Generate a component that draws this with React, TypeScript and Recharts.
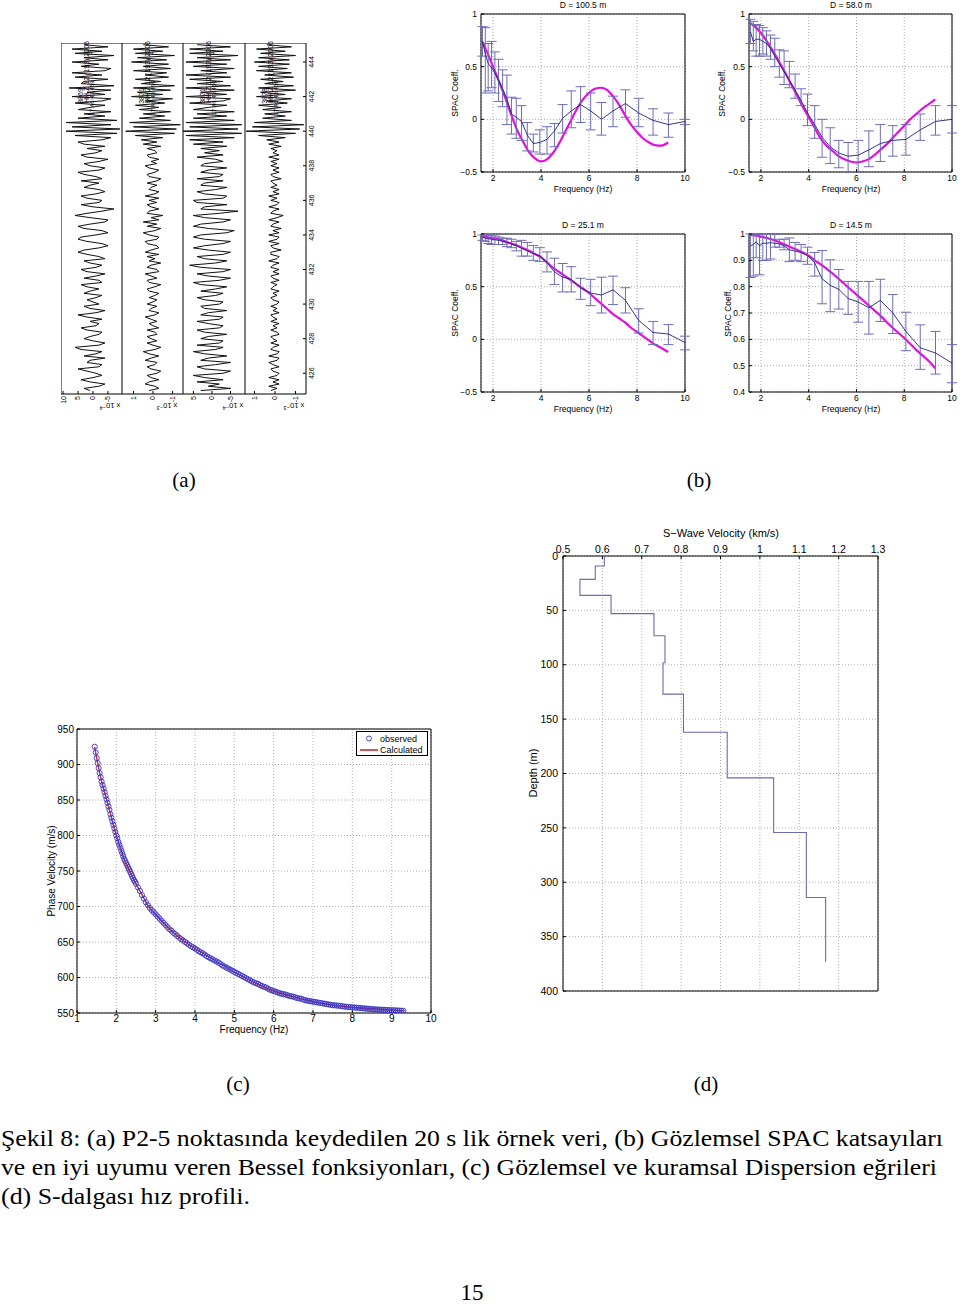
import React from 'react';
import {
  ComposedChart, ScatterChart, Scatter, Line, XAxis, YAxis, CartesianGrid,
  ErrorBar, ReferenceArea, Legend,
} from 'recharts';

const SANS = '"Liberation Sans", Arial, sans-serif';
const SERIF = '"Liberation Serif", "DejaVu Serif", serif';

// ---------------- (a) seismograms ----------------
const seisT0 = 425;
const seisDt = 0.125;
const seisTimeTicks = [426, 428, 430, 432, 434, 436, 438, 440, 442, 444];
// x 1e-4
const trace1 = [
  1, 3, -2, -4, 1, 4, 0, -3, -1, 2, 5, -2, -3, 2, 1, -4, 3, -1, -3, 4, 6, -2, -4, 0,
  3, 1, -2, -3, 2, 4, -1, -2, 1, -3, 2, 5, -1, -4, 1, 3, -2, 0, 2, -1, -3, 3, 1, -2,
  2, 4, -3, -2, 3, -1, -4, 2, 4, -1, -3, 1, 3, -4, -2, 2, 5, 3, -2, -5, -3, 2, 5, 4,
  -1, -5, -3, 3, 5, 1, -4, -5, 1, 6, 2, -3, -7, 0, 4, -2, -3, 2, 4, -1, -4, -2, 3, 1,
  -2, 4, -3, -1, 3, 5, -2, -4, 1, 3, -2, -5, 2, 4, -1, -3, 2, -4, 3, 5, -3, -6, 6, -8,
  9, -9, 7, -6, 9, -8, 5, -4,
  3, -6, 5, 1, -4, 6, -3, -6, 7, -4, 2, -6, 8, -7, 4, 3, -5, 6, -3, 7, -4, -6, 4, -2,
  7, -5, 3, -7, 6, -3, 7, -5, 3,
];
// x 1e-4 (axis labelled x 1e-3)
const trace2 = [
  2, -3, -1, 4, 2, -3, 1, 3, -2, -4, 1, 3, -1, -2, 4, 1, -3, 2, 5, -1, -4, 0, 3, -2,
  1, 3, -2, -1, 3, -3, 0, 2, -2, 1, 4, -1, -3, 2, 1, -2, 3, 0, -2, 2, -1, -3, 2, 3,
  -1, -4, 2, 3, -2, 1, 4, -3, -2, 3, 1, -4, 2, -1, 3, -3, 4, 1, -3, -2, 3, 4, -2, -3,
  2, 5, -1, -4, 3, -2, 5, -3, 1, -5, 3, 2, -3, 1, 3, -2, 2, -3, 4, -1, -3, 2, 1, -2,
  3, -2, -4, 2, 3, -1, -3, 2, 4, -2, 1, -3, 2, 3, -2, -1, 3, -4, 5, -2, 6, -5, 9, -11,
  14, -12, 10, -14, 12, -9, 7, -6,
  5, -9, 7, -3, 9, -6, 4, -10, 11, -5, 8, -9, 10, -11, 6, -4, 9, -8, 4, -7, 10, -9, 5, -8,
  11, -7, 8, -11, 9, -5, 10, -8, 5,
];
// x 1e-4
const trace3 = [
  3, -5, 1, -2, 4, -3, 2, 5, -3, -5, 2, 4, -1, -5, 3, 1, -4, 2, 5, -1, -3, 4, -2, -3,
  3, 1, -4, 2, 4, -2, -3, 1, 4, -2, -3, 3, 1, -4, 2, 3, -2, -3, 2, 4, -1, -3, 3, -1,
  -4, 3, 5, -2, -5, 1, 4, -3, -5, 3, 6, -1, -4, 2, 4, -3, -5, 1, 5, 2, -3, -5, 2, 5,
  3, -4, -6, 1, 5, 3, -3, -5, 2, 5, -2, -7, 3, 2, -4, 4, 5, -3, -4, 2, 4, -1, -4, 3,
  2, -3, 4, -2, -3, 3, 1, -4, 3, 2, -3, -1, 4, -3, 2, -2, 3, -4, 5, -3, 6, -6, 7, -8,
  8, -7, 6, -8, 7, -6, 5, -4,
  4, -6, 5, 1, -4, 6, -3, -5, 7, -4, 3, -6, 7, -5, 4, -3, 6, -5, 7, -4, 3, -6, 5, -4,
  7, -5, 4, -7, 6, -3, 6, -5, 4,
];
// x 1e-4 (axis labelled x 1e-3)
const trace4 = [
  2, -1, 3, -2, 1, -2, 3, -1, -2, 1, 2, -2, 1, 3, -1, -2, 3, -1, -2, 2, 1, -2, 2, -1,
  1, 2, -2, -1, 2, -1, 1, -2, 2, -1, 1, 2, -2, 1, -1, 2, -1, -2, 1, 2, -1, 1, -2, 2,
  1, -1, 2, -2, 1, 2, -2, 1, -2, 2, 1, -2, 3, -1, -2, 2, 2, -3, 1, 2, -2, 3, -1, -2,
  3, -2, 1, -3, 2, 1, -2, 3, -1, -4, 2, 1, -2, 3, -1, -2, 2, -1, 3, -2, 1, -2, 2, -1,
  1, 2, -3, 1, 2, -2, 1, -2, 2, -1, 2, -2, 3, -2, 1, -1, 2, -3, 3, -2, 4, -5, 8, -10,
  14, -12, 11, -14, 10, -8, 6, -5,
  5, -8, 6, -3, 8, -6, 4, -8, 9, -5, 7, -10, 8, -9, 5, -4, 7, -9, 5, -8, 9, -6, 8, -7,
  10, -7, 8, -10, 7, -5, 9, -8, 4,
];
const trace1Ticks = [10, 5, 0, -5];
const trace2Ticks = [10, 0, -10];
const trace3Ticks = [5, 0, -5];
const trace4Ticks = [10, 0, -10];
const stationIds = ['3869', '3871', '3871', '3878'];
const stationNums = ['3', '1', '1', ''];
const scaleExps = ['\u22124', '\u22123', '\u22124', '\u22123'];

// ---------------- (b) SPAC coefficients ----------------
const spacFreq = [1.56, 1.68, 1.80, 1.94, 2.08, 2.23, 2.40, 2.58, 2.77, 2.97, 3.19, 3.43, 3.68, 3.95,
  4.25, 4.56, 4.90, 5.26, 5.65, 6.07, 6.52, 7.00, 7.52, 8.07, 8.67, 9.31, 10.0];
const besselFreq = [1.5, 1.75, 2, 2.25, 2.5, 2.75, 3, 3.25, 3.5, 3.75, 4, 4.25, 4.5, 4.75, 5, 5.25,
  5.5, 5.75, 6, 6.25, 6.5, 6.75, 7, 7.25, 7.5, 7.75, 8, 8.25, 8.5, 8.75, 9, 9.3];

const d100Mean = [0.74, 0.62, 0.53, 0.49, 0.44, 0.37, 0.29, 0.2, 0.05, 0.02, -0.02, -0.15, -0.23, -0.22,
  -0.19, -0.11, 0.01, 0.08, 0.14, 0.08, 0.0, 0.08, 0.15, 0.06, -0.01, -0.05, -0.02];
const d100Hi = [0.88, 0.87, 0.72, 0.74, 0.64, 0.57, 0.47, 0.42, 0.21, 0.2, 0.13, -0.03, -0.14, -0.1,
  -0.07, -0.04, 0.14, 0.27, 0.31, 0.25, 0.16, 0.22, 0.28, 0.2, 0.1, 0.06, 0.0];
const d100Lo = [0.6, 0.25, 0.27, 0.3, 0.25, 0.17, 0.12, -0.05, -0.14, -0.18, -0.2, -0.3, -0.31, -0.33,
  -0.33, -0.26, -0.13, -0.08, -0.03, -0.1, -0.15, -0.07, 0.02, -0.07, -0.15, -0.17, -0.05];
const d100Bessel = [0.76, 0.64, 0.5, 0.36, 0.21, 0.05, -0.1, -0.21, -0.31, -0.37, -0.4, -0.38, -0.32,
  -0.23, -0.12, -0.01, 0.1, 0.19, 0.25, 0.29, 0.3, 0.28, 0.22, 0.14, 0.04, -0.05, -0.12, -0.18, -0.22,
  -0.245, -0.25, -0.22];

const d58Mean = [0.83, 0.74, 0.76, 0.76, 0.74, 0.72, 0.67, 0.6, 0.53, 0.45, 0.37, 0.28, 0.18, 0.06,
  -0.05, -0.17, -0.26, -0.32, -0.35, -0.34, -0.29, -0.23, -0.2, -0.19, -0.1, -0.02, 0.0];
const d58Hi = [0.95, 0.93, 0.9, 0.89, 0.87, 0.84, 0.8, 0.77, 0.66, 0.65, 0.55, 0.43, 0.29, 0.24, 0.13,
  0.0, -0.08, -0.2, -0.22, -0.2, -0.11, -0.05, -0.06, -0.05, 0.05, 0.13, 0.13];
const d58Lo = [0.72, 0.65, 0.6, 0.6, 0.62, 0.6, 0.57, 0.5, 0.4, 0.33, 0.3, 0.2, 0.13, -0.06, -0.18,
  -0.36, -0.42, -0.46, -0.5, -0.5, -0.45, -0.4, -0.35, -0.34, -0.2, -0.15, -0.13];
const d58Bessel = [0.92, 0.88, 0.82, 0.74, 0.65, 0.55, 0.45, 0.34, 0.23, 0.12, 0.02, -0.08, -0.18,
  -0.25, -0.3, -0.35, -0.38, -0.4, -0.41, -0.4, -0.38, -0.34, -0.29, -0.24, -0.18, -0.12, -0.06, 0.0,
  0.05, 0.1, 0.14, 0.19];

const d25Mean = [0.97, 0.96, 0.955, 0.95, 0.945, 0.94, 0.93, 0.92, 0.905, 0.89, 0.865, 0.84, 0.815,
  0.79, 0.73, 0.64, 0.59, 0.57, 0.49, 0.44, 0.42, 0.47, 0.37, 0.18, 0.065, 0.05, -0.03];
const d25Hi = [0.99, 0.99, 0.99, 0.99, 0.98, 0.97, 0.96, 0.96, 0.95, 0.93, 0.94, 0.92, 0.89, 0.87,
  0.83, 0.77, 0.72, 0.69, 0.58, 0.57, 0.59, 0.6, 0.49, 0.29, 0.17, 0.14, 0.03];
const d25Lo = [0.94, 0.93, 0.91, 0.9, 0.9, 0.9, 0.9, 0.88, 0.87, 0.84, 0.79, 0.79, 0.75, 0.74, 0.64,
  0.52, 0.45, 0.45, 0.38, 0.32, 0.25, 0.33, 0.25, 0.06, -0.05, -0.05, -0.1];
const d25Bessel = [0.98, 0.97, 0.96, 0.95, 0.93, 0.91, 0.89, 0.865, 0.84, 0.81, 0.78, 0.73, 0.68,
  0.64, 0.6, 0.56, 0.52, 0.48, 0.44, 0.39, 0.34, 0.29, 0.24, 0.2, 0.16, 0.11, 0.07, 0.03, -0.01,
  -0.05, -0.08, -0.12];

const d14Mean = [0.955, 0.96, 0.97, 0.955, 0.965, 0.965, 0.967, 0.965, 0.962, 0.955, 0.94, 0.935,
  0.93, 0.918, 0.89, 0.83, 0.805, 0.79, 0.755, 0.742, 0.72, 0.748, 0.7, 0.63, 0.568, 0.548, 0.51];
const d14Hi = [1.0, 1.0, 1.0, 1.0, 1.0, 1.0, 1.0, 1.0, 0.98, 0.98, 0.985, 0.968, 0.96, 0.95, 0.93,
  0.937, 0.902, 0.865, 0.82, 0.82, 0.82, 0.828, 0.77, 0.703, 0.655, 0.63, 0.58];
const d14Lo = [0.835, 0.84, 0.91, 0.845, 0.9, 0.9, 0.905, 0.95, 0.95, 0.94, 0.895, 0.9, 0.895, 0.885,
  0.84, 0.735, 0.705, 0.715, 0.695, 0.665, 0.62, 0.668, 0.622, 0.557, 0.486, 0.468, 0.435];
const d14Bessel = [0.997, 0.995, 0.99, 0.985, 0.978, 0.97, 0.96, 0.95, 0.94, 0.93, 0.918, 0.9, 0.885,
  0.868, 0.85, 0.83, 0.81, 0.79, 0.77, 0.75, 0.73, 0.71, 0.69, 0.667, 0.645, 0.625, 0.605, 0.583,
  0.56, 0.54, 0.52, 0.49];

const spacFreqTicks = [2, 4, 6, 8, 10];
const spacTicksWide = [-0.5, 0, 0.5, 1];
const spacTicksNarrow = [0.4, 0.5, 0.6, 0.7, 0.8, 0.9, 1];

// ---------------- (c) dispersion curve ----------------
const obsFreq = [
  1.45, 1.475, 1.5, 1.525, 1.55, 1.575, 1.6, 1.625, 1.65, 1.675, 1.7, 1.725, 1.75, 1.775, 1.8,
  1.825, 1.85, 1.875, 1.9, 1.925, 1.95, 1.975, 2.0, 2.025, 2.05, 2.075, 2.1, 2.125, 2.15, 2.175,
  2.2, 2.225, 2.25, 2.275, 2.3, 2.325, 2.35, 2.375, 2.4, 2.425, 2.45, 2.475, 2.5,
  2.55, 2.6, 2.65, 2.7, 2.75, 2.8, 2.85, 2.9, 2.95, 3.0, 3.05, 3.1, 3.15, 3.2, 3.25, 3.3, 3.35,
  3.4, 3.45, 3.5, 3.55, 3.6, 3.65, 3.7, 3.75, 3.8, 3.85, 3.9, 3.95, 4.0, 4.05, 4.1, 4.15, 4.2,
  4.25, 4.3, 4.35, 4.4, 4.45, 4.5, 4.55, 4.6, 4.65, 4.7, 4.75, 4.8, 4.85, 4.9, 4.95, 5.0, 5.05,
  5.1, 5.15, 5.2, 5.25, 5.3, 5.35, 5.4, 5.45, 5.5, 5.55, 5.6, 5.65, 5.7, 5.75, 5.8, 5.85, 5.9,
  5.95, 6.0, 6.05, 6.1, 6.15, 6.2, 6.25, 6.3, 6.35, 6.4, 6.45, 6.5, 6.55, 6.6, 6.65, 6.7, 6.75,
  6.8, 6.85, 6.9, 6.95, 7.0, 7.05, 7.1, 7.15, 7.2, 7.25, 7.3, 7.35, 7.4, 7.45, 7.5, 7.55, 7.6,
  7.65, 7.7, 7.75, 7.8, 7.85, 7.9, 7.95, 8.0, 8.05, 8.1, 8.15, 8.2, 8.25, 8.3, 8.35, 8.4, 8.45,
  8.5, 8.55, 8.6, 8.65, 8.7, 8.75, 8.8, 8.85, 8.9, 8.95, 9.0, 9.05, 9.1, 9.15, 9.2, 9.25, 9.3,
];
const obsVel = [
  925, 917, 909, 902, 895, 888, 882, 876, 871, 866, 861, 856, 851, 846, 841,
  836, 830, 825, 820, 815, 810, 805, 800, 796, 791, 787, 783, 779, 775, 771,
  767, 764, 761, 758, 755, 752, 749, 746, 743, 740, 737, 735, 732,
  727, 722, 716, 711, 706, 702, 698, 695, 692, 689, 686, 683, 680, 677, 674, 671, 668,
  666, 663, 661, 658.5, 656, 654, 652, 650, 648, 646, 644, 642.5, 641, 639, 637, 635.5, 634,
  632, 630, 628.5, 627, 625.5, 624, 622.5, 621, 619, 617, 615.5, 614, 612.5, 611, 609.5, 608, 606.5,
  605, 603.5, 602, 600.5, 599, 597.5, 596, 594.5, 593, 592, 591, 589.5, 588, 587, 586, 584.5, 583,
  582, 581, 580, 579, 578, 577, 576.5, 576, 575, 574, 573.5, 573, 572, 571, 570.5, 570, 569,
  568, 567.5, 567, 566.5, 566, 565.5, 565, 564.5, 564, 563.5, 563, 562.5, 562, 561.5, 561, 560.8, 560.5,
  560.2, 560, 559.5, 559, 558.8, 558.5, 558.2, 558, 557.8, 557.5, 557.2, 557, 556.8, 556.5, 556.2, 556, 555.8,
  555.5, 555.2, 555, 554.9, 554.8, 554.6, 554.5, 554.3, 554.2, 554.1, 554, 553.8, 553.7, 553.5, 553.4, 553.2, 553,
];
const calcFreq = [1.45, 1.5, 1.53, 1.6, 1.7, 1.75, 1.8, 1.9, 2.0, 2.1, 2.2, 2.35, 2.5, 2.6, 2.8,
  3.0, 3.25, 3.5, 3.75, 4.0, 4.5, 5.0, 5.5, 6.0, 6.5, 7.0, 7.5, 8.0, 8.5, 9.0, 9.33];
const calcVel = [925, 909, 901, 882, 861, 851, 841, 820, 800, 783, 767, 749, 732, 722, 702, 689, 674,
  661, 650, 641, 624, 608, 593, 581, 573, 566, 561, 558, 556, 554, 553];
const dispFreqTicks = [1, 2, 3, 4, 5, 6, 7, 8, 9, 10];
const dispVelTicks = [550, 600, 650, 700, 750, 800, 850, 900, 950];

// ---------------- (d) S-wave profile ----------------
const layerTop = [0, 9.2, 21.5, 36.2, 53, 73.3, 98.2, 127, 162, 204, 254.3, 314];
const layerVs = [0.605, 0.582, 0.543, 0.622, 0.731, 0.759, 0.754, 0.806, 0.917, 1.035, 1.118, 1.167];
const profileBottom = 373;
const vsTicks = [0.5, 0.6, 0.7, 0.8, 0.9, 1.0, 1.1, 1.2, 1.3];
const depthTicks = [0, 50, 100, 150, 200, 250, 300, 350, 400];

// ---------------- helpers ----------------
const fmt = (v: number) => {
  const s = String(Math.round(v * 1000) / 1000);
  return s.startsWith('-') ? '\u2212' + s.slice(1) : s;
};
const NoShape = () => <g />;
const NoTick = () => <g />;
const T_DOMAIN: [number, number] = [424.8, 445.1];

const AmpTick = (p: any) => {
  const { x, y, payload, div } = p;
  const v = payload.value / (div || 1);
  return (
    <text x={x} y={y} dy="0.35em" textAnchor="end" fontSize={7} fontFamily={SANS} fill="#000"
      transform={`rotate(-90 ${x} ${y})`}>{String(v)}</text>
  );
};
const TimeTick = (p: any) => {
  const { x, y, payload } = p;
  return (
    <text x={x} y={y} dy="0.35em" textAnchor="middle" fontSize={7} fontFamily={SANS} fill="#000"
      transform={`rotate(-90 ${x} ${y})`}>{payload.value}</text>
  );
};

function TraceChart(props: { values: number[]; left: number; width: number; xDomain: [number, number]; xTicks: number[]; div: number; showTime?: boolean }) {
  const { values, left, width, xDomain, xTicks, div, showTime } = props;
  const data = values.map((a, i) => ({ t: seisT0 + i * seisDt, a }));
  const rightW = showTime ? 16 : 0;
  return (
    <div style={{ position: 'absolute', left, top: 43 }}>
      <ScatterChart width={width + rightW} height={351 + 16} margin={{ top: 0, right: 0, left: 0, bottom: 0 }}>
        <XAxis type="number" dataKey="a" domain={xDomain} reversed allowDataOverflow ticks={xTicks}
          interval={0} height={16} tickSize={-3} tickMargin={5} axisLine={false}
          tickLine={{ stroke: '#000' }} tick={<AmpTick div={div} />} />
        <YAxis yAxisId="l" type="number" dataKey="t" domain={T_DOMAIN} allowDataOverflow ticks={seisTimeTicks}
          interval={0} width={0} orientation="left" tickSize={-3} axisLine={false}
          tickLine={{ stroke: '#000' }} tick={NoTick} />
        <YAxis yAxisId="r" type="number" domain={T_DOMAIN} allowDataOverflow ticks={seisTimeTicks}
          interval={0} width={rightW} orientation="right" tickSize={-3} tickMargin={9} axisLine={false}
          tickLine={{ stroke: '#000' }} tick={showTime ? <TimeTick /> : NoTick} />
        <ReferenceArea yAxisId="l" x1={xDomain[0]} x2={xDomain[1]} y1={T_DOMAIN[0]} y2={T_DOMAIN[1]}
          fill="none" fillOpacity={0} stroke="#000" strokeWidth={1} />
        <Scatter yAxisId="l" data={data} line={{ stroke: '#111', strokeWidth: 1 }} lineType="joint"
          shape={NoShape} isAnimationActive={false} />
      </ScatterChart>
    </div>
  );
}

function SpacPlot(props: {
  left: number; top: number; width: number; plotW: number; yW: number;
  mean: number[]; hi: number[]; lo: number[]; bessel: number[];
  yDomain: [number, number]; yTicks: number[];
}) {
  const { left, top, width, plotW, yW, mean, hi, lo, bessel, yDomain, yTicks } = props;
  const rows = spacFreq.map((f, i) => ({ f, m: mean[i], e: [mean[i] - lo[i], hi[i] - mean[i]] }));
  const brows = besselFreq.map((f, i) => ({ f, b: bessel[i] }));
  const tickStyle = { fontSize: 8.5, fill: '#000', fontFamily: SANS };
  return (
    <div style={{ position: 'absolute', left, top }}>
      <ComposedChart width={width} height={200} margin={{ top: 14, right: width - yW - plotW, left: 0, bottom: 0 }}>
        <CartesianGrid stroke="#a8a8a8" strokeDasharray="1 2" />
        <XAxis type="number" dataKey="f" domain={[1.5, 10]} ticks={spacFreqTicks} interval={0} allowDataOverflow
          height={28} tickSize={-3} tickMargin={6} tick={tickStyle} axisLine={false} tickLine={{ stroke: '#000' }} />
        <YAxis type="number" domain={yDomain} ticks={yTicks} interval={0} allowDataOverflow width={yW}
          tickSize={-3} tickMargin={7} tick={tickStyle} tickFormatter={fmt} axisLine={false} tickLine={{ stroke: '#000' }} />
        <ReferenceArea x1={1.5} x2={10} y1={yDomain[0]} y2={yDomain[1]} fill="none" fillOpacity={0} stroke="#000" strokeWidth={1} />
        <Line data={brows} dataKey="b" stroke="#e010e0" strokeWidth={2.2} dot={false} isAnimationActive={false} type="monotone" />
        <Line data={rows} dataKey="m" stroke="#20207a" strokeWidth={0.9} dot={false} isAnimationActive={false}>
          <ErrorBar dataKey="e" width={5} stroke="#6d6db8" strokeWidth={1} direction="y" />
        </Line>
      </ComposedChart>
    </div>
  );
}

const Circle = (p: any) => {
  const { cx, cy } = p;
  if (cx == null || cy == null) return <g />;
  return <circle cx={cx} cy={cy} r={2.6} fill="none" stroke="#3434c8" strokeWidth={0.9} />;
};

const DispLegend = () => (
  <div style={{ width: 72, height: 25, border: '1px solid #000', background: '#fff', boxSizing: 'border-box' }}>
    <svg width={70} height={23} style={{ display: 'block' }}>
      <circle cx={12} cy={6.5} r={2.5} fill="none" stroke="#3434c8" strokeWidth={0.9} />
      <text x={23} y={9.5} fontSize={9} fontFamily={SANS} fill="#000">observed</text>
      <line x1={3} x2={21} y1={18} y2={18} stroke="#d02828" strokeWidth={1.6} />
      <text x={23} y={21} fontSize={9} fontFamily={SANS} fill="#000">Calculated</text>
    </svg>
  </div>
);

function DispersionPlot() {
  const obs = obsFreq.map((f, i) => ({ f, v: obsVel[i] }));
  const calc = calcFreq.map((f, i) => ({ f, v: calcVel[i] }));
  const tickStyle = { fontSize: 10, fill: '#000', fontFamily: SANS };
  return (
    <div style={{ position: 'absolute', left: 40, top: 720 }}>
      <ComposedChart width={400} height={320} margin={{ top: 9, right: 9, left: 0, bottom: 0 }}>
        <CartesianGrid stroke="#b0b0b0" strokeDasharray="1 2" />
        <XAxis type="number" dataKey="f" domain={[1, 10]} ticks={dispFreqTicks} interval={0} allowDataOverflow
          height={27} tickSize={-3} tickMargin={5} tick={tickStyle} axisLine={false} tickLine={{ stroke: '#000' }} />
        <YAxis type="number" domain={[550, 950]} ticks={dispVelTicks} interval={0} allowDataOverflow width={37}
          tickSize={-3} tickMargin={6} tick={tickStyle} axisLine={false} tickLine={{ stroke: '#000' }} />
        <ReferenceArea x1={1} x2={10} y1={550} y2={950} fill="none" fillOpacity={0} stroke="#000" strokeWidth={1} />
        <Scatter data={obs} dataKey="v" shape={Circle} isAnimationActive={false} />
        <Line data={calc} dataKey="v" stroke="#d02828" strokeWidth={1.4} dot={false} type="monotone" isAnimationActive={false} />
        <Legend content={<DispLegend />} layout="horizontal" verticalAlign="middle" align="center"
          wrapperStyle={{ left: 316, top: 11, width: 72, height: 25 }} />
      </ComposedChart>
    </div>
  );
}

function ProfilePlot() {
  const pts: { v: number; d: number }[] = [];
  layerTop.forEach((top, i) => {
    const bottom = i + 1 < layerTop.length ? layerTop[i + 1] : profileBottom;
    pts.push({ v: layerVs[i], d: top });
    pts.push({ v: layerVs[i], d: bottom });
  });
  const tickStyle = { fontSize: 10.5, fill: '#000', fontFamily: SANS };
  return (
    <div style={{ position: 'absolute', left: 520, top: 520 }}>
      <ScatterChart width={370} height={480} margin={{ top: 0, right: 12, left: 0, bottom: 9 }}>
        <CartesianGrid stroke="#b0b0b0" strokeDasharray="1 2" />
        <XAxis type="number" dataKey="v" orientation="top" domain={[0.5, 1.3]} ticks={vsTicks} interval={0}
          allowDataOverflow height={36} tickSize={-3} tickMargin={6} tick={tickStyle} tickFormatter={fmt}
          axisLine={false} tickLine={{ stroke: '#000' }} />
        <YAxis type="number" dataKey="d" reversed domain={[0, 400]} ticks={depthTicks} interval={0}
          allowDataOverflow width={43} tickSize={-3} tickMargin={8} tick={tickStyle}
          axisLine={false} tickLine={{ stroke: '#000' }} />
        <ReferenceArea x1={0.5} x2={1.3} y1={0} y2={400} fill="none" fillOpacity={0} stroke="#000" strokeWidth={1} />
        <Scatter data={pts} line={{ stroke: '#6a6ab6', strokeWidth: 1.1 }} lineType="joint" shape={NoShape}
          isAnimationActive={false} />
      </ScatterChart>
    </div>
  );
}

const panelLefts = [61, 122, 183, 245];
const panelWidths = [61, 61, 62, 61];

function Overlay() {
  const sans = { fontFamily: SANS, fill: '#000' } as const;
  const rot = (x: number, y: number, a = -90) => `rotate(${a} ${x} ${y})`;
  return (
    <svg width={960} height={1304} style={{ position: 'absolute', left: 0, top: 0, pointerEvents: 'none' }}>
      {/* (a) annotations */}
      {panelLefts.map((L, i) => (
        <g key={i} {...sans} fontSize={7}>
          <text x={L + 20} y={96} textAnchor="middle" dy="0.35em" transform={rot(L + 20, 96)}>{stationIds[i]}</text>
          <text x={L + 26} y={72} textAnchor="middle" dy="0.35em" transform={rot(L + 26, 72)}>HH Z 12 (193) 2006</text>
          <text x={L + 31} y={98} textAnchor="middle" dy="0.35em" fontSize={6} transform={rot(L + 31, 98)}>17:46:43.459</text>
          {stationNums[i] ? (
            <text x={L + 29} y={53} textAnchor="middle" dy="0.35em" transform={rot(L + 29, 53)}>{stationNums[i]}</text>
          ) : null}
        </g>
      ))}
      {[110, 167, 233, 294].map((cx, i) => (
        <text key={i} x={cx} y={406} textAnchor="middle" dy="0.35em" fontSize={7.5} {...sans}
          transform={rot(cx, 406, 180)}>x 10<tspan dy="-3" fontSize={5.5}>{scaleExps[i]}</tspan></text>
      ))}

      {/* (b) titles & axis labels */}
      <g {...sans} fontSize={8.5} textAnchor="middle">
        <text x={583} y={8}>D = 100.5 m</text>
        <text x={851} y={8}>D = 58.0 m</text>
        <text x={583} y={228}>D = 25.1 m</text>
        <text x={851} y={228}>D = 14.5 m</text>
        <text x={583} y={192}>Frequency (Hz)</text>
        <text x={851} y={192}>Frequency (Hz)</text>
        <text x={583} y={412}>Frequency (Hz)</text>
        <text x={851} y={412}>Frequency (Hz)</text>
        <text x={455} y={93} dy="0.35em" transform={rot(455, 93)}>SPAC Coeff.</text>
        <text x={722} y={93} dy="0.35em" transform={rot(722, 93)}>SPAC Coeff.</text>
        <text x={455} y={313} dy="0.35em" transform={rot(455, 313)}>SPAC Coeff.</text>
        <text x={728} y={313} dy="0.35em" transform={rot(728, 313)}>SPAC Coeff.</text>
      </g>

      {/* (c), (d) axis labels */}
      <g {...sans} fontSize={10} textAnchor="middle">
        <text x={254} y={1033}>Frequency (Hz)</text>
        <text x={51} y={871} dy="0.35em" transform={rot(51, 871)}>Phase Velocity (m/s)</text>
        <text x={721} y={537} fontSize={11}>S{'\u2212'}Wave Velocity (km/s)</text>
        <text x={533} y={773} dy="0.35em" fontSize={11} transform={rot(533, 773)}>Depth (m)</text>
      </g>

      {/* panel letters */}
      <g fontFamily={SERIF} fontSize={21} fill="#000" textAnchor="middle">
        <text x={184} y={487}>(a)</text>
        <text x={699} y={487}>(b)</text>
        <text x={238} y={1091}>(c)</text>
        <text x={706} y={1091}>(d)</text>
      </g>

      {/* caption */}
      <g fontFamily={SERIF} fontSize={23.5} fill="#000">
        <text x={1} y={1146} textLength={942} lengthAdjust="spacingAndGlyphs">Şekil 8: (a) P2-5 noktasında keydedilen 20 s lik örnek veri, (b) Gözlemsel SPAC katsayıları</text>
        <text x={1} y={1175} textLength={936} lengthAdjust="spacingAndGlyphs">ve en iyi uyumu veren Bessel fonksiyonları, (c) Gözlemsel ve kuramsal Dispersion eğrileri</text>
        <text x={1} y={1204} textLength={249} lengthAdjust="spacingAndGlyphs">(d) S-dalgası hız profili.</text>
        <text x={472} y={1300} textAnchor="middle" fontSize={23}>15</text>
      </g>
    </svg>
  );
}

export default function App() {
  return (
    <div style={{ position: 'absolute', left: 0, top: 0, width: 960, height: 1304, background: '#fff', overflow: 'hidden' }}>
      <TraceChart values={trace1} left={panelLefts[0]} width={panelWidths[0]} xDomain={[-9.7, 10.7]} xTicks={trace1Ticks} div={1} />
      <TraceChart values={trace2} left={panelLefts[1]} width={panelWidths[1]} xDomain={[-15.4, 15.9]} xTicks={trace2Ticks} div={10} />
      <TraceChart values={trace3} left={panelLefts[2]} width={panelWidths[2]} xDomain={[-8.9, 7.8]} xTicks={trace3Ticks} div={1} />
      <TraceChart values={trace4} left={panelLefts[3]} width={panelWidths[3]} xDomain={[-15.1, 14.6]} xTicks={trace4Ticks} div={10} showTime />

      <SpacPlot left={440} top={0} width={260} plotW={204} yW={41} mean={d100Mean} hi={d100Hi} lo={d100Lo}
        bessel={d100Bessel} yDomain={[-0.5, 1]} yTicks={spacTicksWide} />
      <SpacPlot left={708} top={0} width={252} plotW={203} yW={41} mean={d58Mean} hi={d58Hi} lo={d58Lo}
        bessel={d58Bessel} yDomain={[-0.5, 1]} yTicks={spacTicksWide} />
      <SpacPlot left={440} top={220} width={260} plotW={204} yW={41} mean={d25Mean} hi={d25Hi} lo={d25Lo}
        bessel={d25Bessel} yDomain={[-0.5, 1]} yTicks={spacTicksWide} />
      <SpacPlot left={708} top={220} width={252} plotW={203} yW={41} mean={d14Mean} hi={d14Hi} lo={d14Lo}
        bessel={d14Bessel} yDomain={[0.4, 1]} yTicks={spacTicksNarrow} />

      <DispersionPlot />
      <ProfilePlot />
      <Overlay />
    </div>
  );
}
